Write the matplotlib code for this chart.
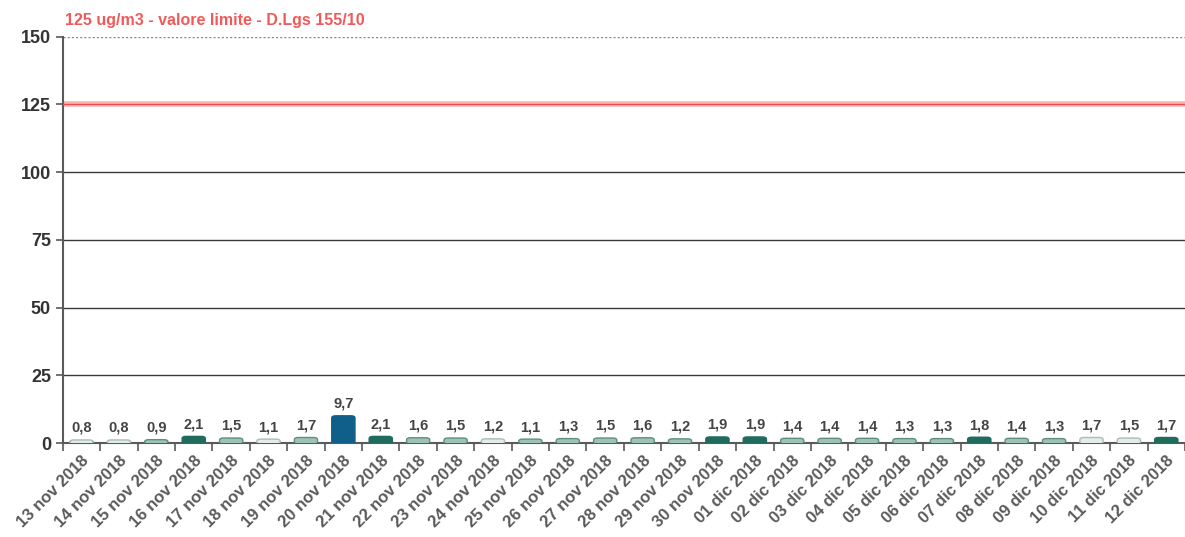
import matplotlib.pyplot as plt
from matplotlib.patches import FancyBboxPatch

plt.rcParams['font.family'] = ['Liberation Sans', 'DejaVu Sans']

dates = ["13 nov 2018", "14 nov 2018", "15 nov 2018", "16 nov 2018", "17 nov 2018",
         "18 nov 2018", "19 nov 2018", "20 nov 2018", "21 nov 2018", "22 nov 2018",
         "23 nov 2018", "24 nov 2018", "25 nov 2018", "26 nov 2018", "27 nov 2018",
         "28 nov 2018", "29 nov 2018", "30 nov 2018", "01 dic 2018", "02 dic 2018",
         "03 dic 2018", "04 dic 2018", "05 dic 2018", "06 dic 2018", "07 dic 2018",
         "08 dic 2018", "09 dic 2018", "10 dic 2018", "11 dic 2018", "12 dic 2018"]
values = [0.8, 0.8, 0.9, 2.1, 1.5, 1.1, 1.7, 9.7, 2.1, 1.6,
          1.5, 1.2, 1.1, 1.3, 1.5, 1.6, 1.2, 1.9, 1.9, 1.4,
          1.4, 1.4, 1.3, 1.3, 1.8, 1.4, 1.3, 1.7, 1.5, 1.7]
limit = 125
limit_label = "125 ug/m3 - valore limite - D.Lgs 155/10"

# shade per bar: 0 pale, 1 medium, 2 dark teal, 3 blue
shade = [0, 0, 1, 2, 1, 0, 1, 3, 2, 1,
         1, 0, 1, 1, 1, 1, 1, 2, 2, 1,
         1, 1, 1, 1, 2, 1, 1, 0, 0, 2]
palette = {0: ("#e4ece9", "#a9bdb6"), 1: ("#9cc3b4", "#5f8f80"),
           2: ("#1f6b5c", "#1f6b5c"), 3: ("#0f5f8a", "#0f5f8a")}

fig = plt.figure(figsize=(11.85, 5.37), dpi=100)
ax = fig.add_axes([0.053, 0.175, 0.947, 0.757])

grey = "#5a5a5a"
for y in [25, 50, 75, 100]:
    ax.axhline(y, color="#3a3a3a", lw=1.0, zorder=1)
ax.axhline(150, color="#888888", lw=1.0, ls=(0, (1.5, 1.5)), zorder=1)
ax.axhline(limit, color="#f6b4b4", lw=4, zorder=2)
ax.axhline(limit, color="#e85050", lw=1.0, zorder=3)

w = 0.62
for i, v in enumerate(values):
    fc, ec = palette[shade[i]]
    p = FancyBboxPatch((i - w / 2 + 0.08, 0.3), w - 0.16, max(v - 0.6, 0.2),
                       boxstyle="round,pad=0.08,rounding_size=0.1",
                       mutation_aspect=8, fc=fc, ec=ec, lw=1.0, zorder=4)
    ax.add_patch(p)
    ax.text(i, v + 2.2, f"{v:.1f}".replace(".", ","), ha="center", va="bottom",
            fontsize=10.5, fontweight="bold", color="#444444", zorder=5)

ax.set_xlim(-0.4, 29.15)
ax.set_ylim(0, 150)
ax.set_yticks([0, 25, 50, 75, 100, 125, 150])
ax.set_xticks(range(len(dates)))
ax.set_xticklabels(dates, rotation=45, ha="right", rotation_mode="anchor",
                   fontsize=12, fontweight="bold", color=grey)
ax.tick_params(axis="x", length=0, pad=7)
ax.set_xticks([i + 0.5 for i in range(-1, len(dates))], minor=True)
ax.tick_params(axis="x", which="minor", length=6, color=grey, width=1.2)
ax.tick_params(axis="y", length=5, color=grey, width=1.2, labelsize=13,
               labelcolor="#333333")
for lab in ax.get_yticklabels():
    lab.set_fontweight("bold")

for s in ["top", "right"]:
    ax.spines[s].set_visible(False)
for s in ["left", "bottom"]:
    ax.spines[s].set_color(grey)
    ax.spines[s].set_linewidth(1.5)

fig.text(0.055, 0.962, limit_label, color="#f05a5a", fontsize=11.5,
         fontweight="bold", ha="left", va="center")

fig.savefig("out.png", dpi=100)
